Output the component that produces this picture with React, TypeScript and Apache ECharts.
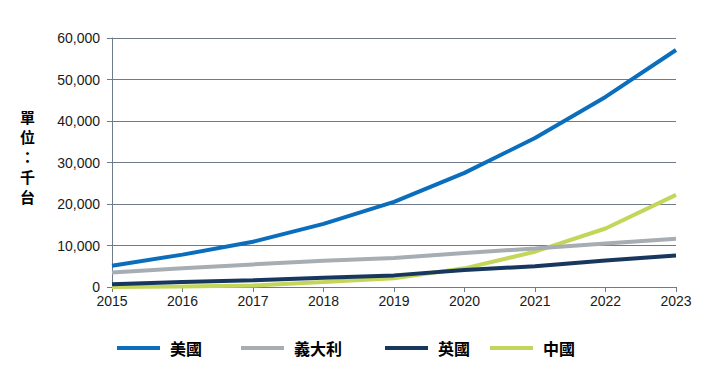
import React, { useEffect, useRef } from "react";
import * as echarts from "echarts";

const years = ["2015", "2016", "2017", "2018", "2019", "2020", "2021", "2022", "2023"];
const usa = [5100, 7800, 10900, 15200, 20500, 27500, 35900, 45800, 57100];
const italy = [3500, 4500, 5450, 6300, 7000, 8200, 9300, 10500, 11600];
const uk = [650, 1200, 1600, 2250, 2800, 4100, 5000, 6400, 7600];
const china = [0, 150, 350, 1200, 2100, 4500, 8500, 14100, 22200];
const seriesNames = ["美國", "義大利", "英國", "中國"];
const colors = ["#0a6ebd", "#a6adb3", "#17375e", "#c3d65a"];
const yTitle = "單\n位\n：\n千\n台";

export default function App() {
  const ref = useRef<HTMLDivElement>(null);
  useEffect(() => {
    if (!ref.current) return;
    const chart = echarts.init(ref.current, undefined, { renderer: "svg" });
    const values = [usa, italy, uk, china];
    const legendLeft = [112, 236, 380, 485];
    const labelFont = "'Liberation Sans', Arial, sans-serif";
    chart.setOption({
      animation: false,
      color: colors,
      textStyle: { fontFamily: labelFont },
      grid: { left: 112, right: 31, top: 38, bottom: 89 },
      legend: seriesNames.map((n, i) => ({
        data: [n],
        left: legendLeft[i],
        top: 335,
        icon: "rect",
        itemWidth: 43,
        itemHeight: 4,
        textStyle: {
          fontSize: 16,
          fontWeight: "bold",
          color: "#000",
          fontFamily: "'Noto Sans CJK TC', sans-serif",
          padding: [0, 0, 0, 5],
        },
      })),
      xAxis: {
        type: "category",
        data: years,
        boundaryGap: false,
        axisLine: { lineStyle: { color: "#6e7b8b", width: 1 } },
        axisTick: { show: true, length: 5, lineStyle: { color: "#6e7b8b" } },
        axisLabel: { color: "#1a1a1a", fontSize: 14, margin: 7, fontFamily: labelFont },
        splitLine: { show: false },
      },
      yAxis: {
        type: "value",
        min: 0,
        max: 60000,
        interval: 10000,
        axisLine: { show: true, lineStyle: { color: "#6e7b8b", width: 1 } },
        axisTick: { show: true, length: 5, lineStyle: { color: "#6e7b8b" } },
        axisLabel: {
          color: "#1a1a1a",
          fontSize: 14,
          margin: 12,
          fontFamily: labelFont,
          formatter: (v: number) => v.toLocaleString("en-US"),
        },
        splitLine: { show: true, lineStyle: { color: "#6e7b8b", width: 1 } },
      },
      graphic: [
        {
          type: "text",
          left: 20,
          top: 106,
          style: {
            text: yTitle,
            fill: "#000",
            lineHeight: 20,
            font: "bold 15px 'Noto Sans CJK TC', sans-serif",
          },
        },
      ],
      series: seriesNames.map((n, i) => ({
        name: n,
        type: "line",
        data: values[i],
        symbol: "none",
        lineStyle: { width: 4, color: colors[i] },
        itemStyle: { color: colors[i] },
        z: 10 - i,
      })),
    });
    return () => chart.dispose();
  }, []);
  return <div ref={ref} style={{ width: 707, height: 376, position: "absolute", left: 0, top: 0 }} />;
}
